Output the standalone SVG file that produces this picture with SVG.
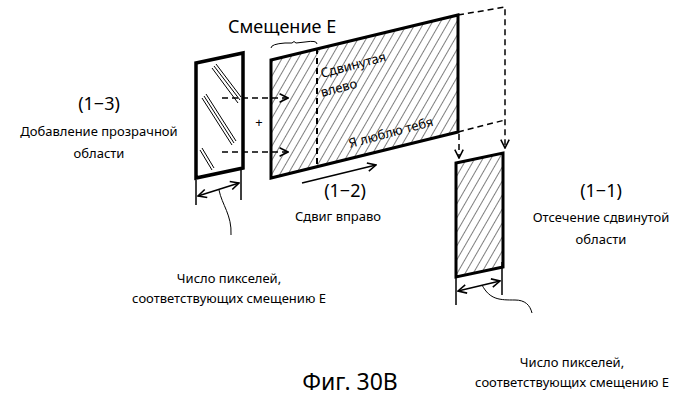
<svg xmlns="http://www.w3.org/2000/svg" width="698" height="401" viewBox="0 0 698 401">
<style>
text{font-family:"Noto Sans","Open Sans",sans-serif;fill:#000}
.t{font-size:13px;text-anchor:middle}
.h{font-size:18px;text-anchor:middle}
.ln{stroke:#000;stroke-width:1.5;fill:none}
.ds{stroke:#000;stroke-width:1.5;fill:none;stroke-dasharray:6,4}
.fr{stroke:#000;stroke-width:3;fill:url(#hatch)}
</style>
<defs>
<pattern id="hatch" patternUnits="userSpaceOnUse" width="7" height="7" patternTransform="rotate(30)">
<line x1="0" y1="0" x2="0" y2="7" stroke="#000" stroke-width="1"/>
</pattern>
<marker id="a" viewBox="0 0 10 10" refX="9" refY="5" markerWidth="7" markerHeight="7" orient="auto-start-reverse"><path d="M1,1L9,5L1,9" fill="none" stroke="#000" stroke-width="1.5"/></marker>
</defs>
<g id="left">
<polygon points="196,63 243,53 243,168 196,178" fill="#fff" stroke="#000" stroke-width="3.5"/>
<g class="ln" style="stroke-width:1">
<path d="M212,68L238,103M214,66L240,100M216,64L241,97"/>
<path d="M202,98L232,145M204,96L234,143M206,94L236,141"/>
<path d="M200,150L212,170M202,148L214,168"/>
</g>
<path class="ln" d="M196,180V205M241,170V200"/>
<line class="ln" x1="198" y1="196" x2="239" y2="183" marker-start="url(#a)" marker-end="url(#a)"/>
<path class="ln" style="stroke-width:1" d="M219,190C222,205 232,215 231,235"/>
</g>
<g id="big">
<polygon class="fr" points="271,60 458,15 458,132 271,178"/>
<line class="ds" x1="317" y1="48" x2="317" y2="166" style="stroke-width:2"/>
<path class="ln" style="stroke-width:1" d="M271,48Q271,44 285,43L292,43Q294,40 296,43L305,42Q317,40 317,44"/>
<text x="322" y="78" font-size="13" transform="rotate(-15 322 78)">Сдвинутая</text>
<text x="322" y="97" font-size="13" transform="rotate(-15 322 97)">влево</text>
<text x="350" y="148" font-size="13" transform="rotate(-15 350 148)">Я люблю тебя</text>
</g>
<g id="small">
<polygon class="fr" points="456,163 503,153 503,267 456,277"/>
<path class="ln" d="M456,270V305M502,262V295"/>
<line class="ln" x1="458" y1="291" x2="500" y2="281" marker-start="url(#a)" marker-end="url(#a)"/>
<path class="ln" style="stroke-width:1" d="M482,285C490,300 500,300 515,300C525,300 530,305 532,313"/>
</g>
<g id="connectors">
<line class="ds" x1="222" y1="98" x2="288" y2="98" marker-end="url(#a)"/>
<line class="ds" x1="222" y1="152" x2="288" y2="152" marker-end="url(#a)"/>
<path class="ds" d="M458,15L505,7V148" marker-end="url(#a)"/>
<path class="ds" d="M458,132L505,120"/>
<line class="ds" x1="459" y1="134" x2="459" y2="158" marker-end="url(#a)"/>
<line class="ln" x1="302" y1="183" x2="376" y2="165" stroke-width="2" marker-end="url(#a)"/>
</g>
<text x="259" y="127" font-size="13" text-anchor="middle">+</text>
<text x="228" y="33" font-size="18">Смещение  E</text>
<text class="h" x="99" y="110">(1−3)</text>
<text class="t" x="99" y="136">Добавление прозрачной</text>
<text class="t" x="99" y="158">области</text>
<text class="h" x="345" y="197">(1−2)</text>
<text class="t" x="338" y="221">Сдвиг вправо</text>
<text class="h" x="601" y="197">(1−1)</text>
<text class="t" x="601" y="222">Отсечение сдвинутой</text>
<text class="t" x="601" y="244">области</text>
<text class="t" x="229" y="283">Число пикселей,</text>
<text class="t" x="229" y="303">соответствующих смещению E</text>
<text class="t" x="572" y="367">Число пикселей,</text>
<text class="t" x="572" y="387">соответствующих смещению E</text>
<text x="350" y="390" font-size="23" text-anchor="middle">Фиг. 30В</text>
</svg>
